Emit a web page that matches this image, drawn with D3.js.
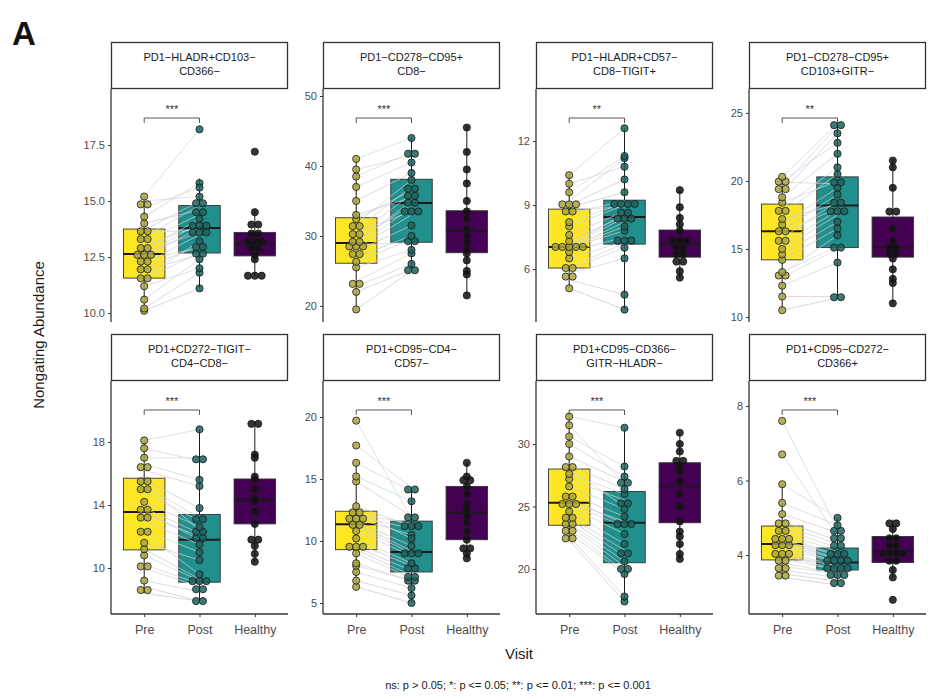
<!DOCTYPE html>
<html>
<head>
<meta charset="utf-8">
<script src="https://cdn.jsdelivr.net/npm/d3@7"></script>
<style>
body { margin:0; background:#fff; font-family:"Liberation Sans", Arial, sans-serif; }
</style>
</head>
<body>
<svg id="chart"></svg>
<script>
//visit groups on the x axis
var visits = ["Pre","Post","Healthy"];

//strip labels, two lines each
var panelLabels = [
    ["PD1−HLADR+CD103−","CD366−"],
    ["PD1−CD278−CD95+","CD8−"],
    ["PD1−HLADR+CD57−","CD8−TIGIT+"],
    ["PD1−CD278−CD95+","CD103+GITR−"],
    ["PD1+CD272−TIGIT−","CD4−CD8−"],
    ["PD1+CD95−CD4−","CD57−"],
    ["PD1+CD95−CD366−","GITR−HLADR−"],
    ["PD1+CD95−CD272−","CD366+"]
];

var sigLabels = ["***","***","**","**","***","***","***","***"];

//y limits and ticks
var yDomains = [[9.6,20.0],[17.7,51.0],[3.52,14.44],[9.63,26.76],[7.08,21.87],[4.11,22.9],[16.4,35.04],[2.42,8.67]];
var yTicks = [[10,12.5,15,17.5],[20,30,40,50],[6,9,12],[10,15,20,25],[10,14,18],[5,10,15,20],[20,25,30],[4,6,8]];

//box stats [low whisker, q1, median, q3, high whisker]
var preBox = [[10.1,11.56,12.63,13.75,15.2],[19.3,26.1,29.0,32.6,41.0],[5.1,6.05,7.03,8.81,10.45],[10.5,14.2,16.3,18.3,20.3],
              [8.4,11.15,13.55,15.7,18.1],[6.3,9.3,11.35,12.4,16.3],[22.3,23.5,25.3,28.0,32.2],[3.4,3.87,4.3,4.78,5.9]];
var postBox = [[11.1,12.68,13.8,14.8,16.0],[25.0,29.1,34.7,38.1,44.3],[4.1,7.17,8.44,9.23,12.6],[11.4,15.1,18.2,20.3,24.2],
              [7.85,9.1,11.8,13.4,18.8],[5.0,7.5,9.1,11.6,14.3],[17.4,20.5,23.7,26.2,31.3],[3.2,3.6,3.8,4.19,5.0]];
var healthyBox = [[11.65,12.55,13.1,13.6,14.55],[21.7,27.6,30.7,33.6,45.7],[5.6,6.56,7.2,7.83,9.7],[11.0,14.4,15.1,17.35,21.6],
              [10.4,12.8,14.3,15.65,19.3],[8.6,10.1,12.3,14.4,16.3],[20.8,23.7,26.6,28.5,30.9],[3.4,3.8,4.1,4.5,4.95]];

//paired patient values, same order in pre and post
var preValues = [
    [10.1,10.2,10.6,11.2,11.5,11.6,11.9,12.0,12.2,12.4,12.5,12.6,12.7,12.8,13.0,13.2,13.4,13.6,13.7,14.0,14.3,14.7,15.0,15.2],
    [19.5,22.0,22.8,23.5,25.5,26.3,27.0,27.8,28.2,28.5,28.8,29.0,29.3,30.0,30.5,31.0,31.8,32.4,33.0,35.0,37.0,38.5,39.5,41.0],
    [5.1,5.5,5.8,6.0,6.1,6.5,6.8,7.0,7.0,7.0,7.1,7.1,7.3,7.6,8.0,8.2,8.6,8.8,8.9,9.0,9.2,9.6,10.0,10.4],
    [10.5,11.5,12.3,12.9,13.2,13.3,14.2,14.6,15.0,15.4,15.8,16.2,16.4,16.8,17.2,17.6,18.0,18.4,18.8,19.2,19.6,19.9,20.0,20.3],
    [8.4,8.8,9.2,10.0,10.2,10.8,11.2,11.6,12.2,12.4,13.0,13.4,13.6,13.8,14.2,14.8,15.2,15.4,15.6,16.2,16.6,17.0,17.6,18.1],
    [6.3,6.8,7.5,8.0,8.2,9.0,9.3,9.5,9.8,10.2,10.8,11.2,11.4,11.6,11.8,12.0,12.2,12.4,12.8,14.8,15.2,16.3,17.7,19.7],
    [22.3,22.6,22.9,23.2,23.5,23.7,24.0,24.2,24.6,25.0,25.2,25.4,25.6,26.0,26.6,27.2,27.6,28.0,28.3,29.0,30.0,30.6,31.5,32.2],
    [3.4,3.5,3.6,3.7,3.8,3.9,4.0,4.0,4.1,4.2,4.3,4.3,4.4,4.4,4.5,4.6,4.7,4.8,4.9,5.1,5.4,5.9,6.7,7.6]
];
var postValues = [
    [11.1,11.8,12.4,12.0,12.7,13.2,12.6,13.0,13.5,12.9,13.8,14.0,13.6,14.2,13.9,14.4,14.8,13.7,15.0,14.6,15.8,15.6,15.2,18.2],
    [25.0,25.2,26.0,27.5,28.0,29.5,30.0,31.5,33.0,34.0,29.0,35.0,34.5,36.0,33.5,37.0,38.0,36.5,35.5,39.0,40.5,42.0,41.5,44.0],
    [4.1,4.8,6.5,7.0,7.2,7.3,7.5,7.8,8.2,8.0,8.4,8.6,8.5,8.7,9.0,9.1,9.2,8.9,9.6,10.2,11.2,11.3,10.8,12.6],
    [11.4,11.5,14.0,15.0,16.0,15.2,16.5,17.0,17.5,17.8,18.5,18.0,19.0,19.5,18.3,20.5,21.0,20.0,22.0,23.5,24.0,19.8,22.8,24.2],
    [7.9,7.9,8.5,8.8,9.0,9.2,9.3,10.5,9.6,11.0,11.5,12.0,11.8,12.2,12.6,13.0,13.2,12.4,13.8,15.2,15.6,17.0,16.8,18.8],
    [5.0,5.6,6.2,6.8,6.8,7.0,7.2,7.6,8.0,8.2,8.8,9.0,9.2,9.6,10.5,11.0,11.4,10.2,11.2,12.0,13.2,14.0,14.3,11.8],
    [17.4,17.8,19.6,19.8,20.2,20.6,21.0,21.5,22.0,22.8,23.4,23.8,23.6,24.2,24.8,25.5,26.0,25.0,26.4,27.0,27.4,28.2,26.8,31.3],
    [3.2,3.3,3.4,3.5,3.5,3.6,3.6,3.7,3.7,3.8,3.8,3.9,3.9,4.0,4.0,4.1,4.2,4.3,4.4,4.6,4.8,5.0,4.5,4.7]
];
var healthyValues = [
    [11.6,11.7,11.7,12.4,12.6,12.8,13.0,13.1,13.2,13.3,13.5,13.6,13.9,14.0,14.5,17.2],
    [21.5,24.5,25.0,26.5,27.5,28.0,29.0,30.0,31.0,32.5,33.5,35.0,37.5,39.5,42.0,45.5],
    [5.6,5.9,6.2,6.5,6.6,6.8,6.9,7.1,7.2,7.3,7.5,7.8,8.1,8.4,8.9,9.7],
    [11.0,12.5,12.8,13.5,14.3,14.5,14.8,15.0,15.2,15.6,16.5,17.5,18.0,19.5,21.0,21.5],
    [10.4,10.9,11.4,11.6,12.0,12.8,13.6,14.2,14.4,15.0,15.6,15.8,17.0,17.2,19.0,19.3],
    [8.6,9.0,9.3,9.5,10.1,10.8,11.5,12.0,12.5,13.0,13.8,14.4,14.8,15.0,15.2,16.3],
    [20.8,21.2,22.0,22.6,23.0,23.8,25.0,26.0,27.0,27.8,28.2,28.5,28.8,29.4,30.0,30.9],
    [2.8,3.4,3.6,3.8,3.9,4.0,4.0,4.1,4.1,4.2,4.3,4.4,4.5,4.7,4.8,4.9]
];

//colours
var boxFill = {Pre:"#fde725", Post:"#21908c", Healthy:"#440154"};
var dotFill = {Pre:"#a8a43c", Post:"#1b625d", Healthy:"#111111"};
var pairColors = ["#c8c8d8","#dcc4cc","#c4d4e4","#d4dcc4","#d8d0e8","#c8dcd8"];

var screen = {width:948, height:696};
var colX = [111, 323, 536, 749];
var panelW = 177;
var rowTop = [42, 334];
var stripH = 47;
var plotH = 233;
var dotR = 3.6;

var svg = d3.select("#chart")
    .attr("width", screen.width)
    .attr("height", screen.height);

//draws one stacked dot column, like geom_dotplot with centred stacks
var drawDots = function(g, values, cx, yScale, fill)
{
    var bins = d3.groups(values, function(v){ return Math.round(yScale(v)/(2*dotR)); });
    bins.forEach(function(bin)
    {
        var vals = bin[1];
        var cy = d3.mean(vals, function(v){ return yScale(v); });
        vals.forEach(function(v, i)
        {
            g.append("circle")
                .attr("cx", cx + (i-(vals.length-1)/2)*dotR*1.9)
                .attr("cy", cy)
                .attr("r", dotR)
                .attr("fill", fill)
                .attr("fill-opacity", 0.85)
                .attr("stroke", "#1a1a1a")
                .attr("stroke-width", 0.8);
        });
    });
}

var drawBox = function(g, stats, cx, bw, yScale, fill)
{
    g.append("line")
        .attr("x1", cx).attr("x2", cx)
        .attr("y1", yScale(stats[0])).attr("y2", yScale(stats[4]))
        .attr("stroke", "#1a1a1a").attr("stroke-width", 1);
    g.append("rect")
        .attr("x", cx-bw/2).attr("width", bw)
        .attr("y", yScale(stats[3]))
        .attr("height", yScale(stats[1])-yScale(stats[3]))
        .attr("fill", fill)
        .attr("stroke", "#333").attr("stroke-width", 0.9);
    g.append("line")
        .attr("x1", cx-bw/2).attr("x2", cx+bw/2)
        .attr("y1", yScale(stats[2])).attr("y2", yScale(stats[2]))
        .attr("stroke", "#1a1a1a").attr("stroke-width", 2);
}

var drawPanel = function(p)
{
    var col = p % 4, row = Math.floor(p/4);
    var left = colX[col], top = rowTop[row] + stripH;

    var g = svg.append("g").attr("transform","translate("+left+","+top+")");

    var xScale = d3.scalePoint().domain(visits).range([0,panelW]).padding(0.6);
    var yScale = d3.scaleLinear().domain(yDomains[p]).range([plotH,0]);
    var bw = xScale.step()*0.75;

    //strip
    var strip = svg.append("g").attr("transform","translate("+left+","+rowTop[row]+")");
    strip.append("rect")
        .attr("x",0.5).attr("y",0.5)
        .attr("width",panelW-1).attr("height",stripH-1)
        .attr("fill","#fff").attr("stroke","#333").attr("stroke-width",1.3);
    panelLabels[p].forEach(function(line, i)
    {
        strip.append("text")
            .attr("x", panelW/2).attr("y", 19+i*14)
            .attr("text-anchor","middle")
            .attr("font-size", 11).attr("fill","#1a1a1a")
            .text(line);
    });

    //boxes
    drawBox(g, preBox[p], xScale("Pre"), bw, yScale, boxFill.Pre);
    drawBox(g, postBox[p], xScale("Post"), bw, yScale, boxFill.Post);
    drawBox(g, healthyBox[p], xScale("Healthy"), bw, yScale, boxFill.Healthy);

    //paired lines
    preValues[p].forEach(function(v, i)
    {
        g.append("line")
            .attr("x1", xScale("Pre")).attr("y1", yScale(v))
            .attr("x2", xScale("Post")).attr("y2", yScale(postValues[p][i]))
            .attr("stroke", pairColors[i % pairColors.length])
            .attr("stroke-width", 0.9)
            .attr("opacity", 0.8);
    });

    //dots
    drawDots(g, preValues[p], xScale("Pre"), yScale, dotFill.Pre);
    drawDots(g, postValues[p], xScale("Post"), yScale, dotFill.Post);
    drawDots(g, healthyValues[p], xScale("Healthy"), yScale, dotFill.Healthy);

    //significance bracket
    var by = 29;
    g.append("path")
        .attr("d","M"+xScale("Pre")+","+(by+5)+"V"+by+"H"+xScale("Post")+"V"+(by+5))
        .attr("fill","none").attr("stroke","#444").attr("stroke-width",0.9);
    g.append("text")
        .attr("x",(xScale("Pre")+xScale("Post"))/2).attr("y",by-5)
        .attr("text-anchor","middle")
        .attr("font-size",11).attr("fill","#333")
        .text(sigLabels[p]);

    //y axis
    var yAxis = d3.axisLeft(yScale)
        .tickValues(yTicks[p])
        .tickSize(3)
        .tickFormat(p==0 ? d3.format(".1f") : d3.format("d"));
    var ya = g.append("g").call(yAxis);
    ya.select(".domain").attr("stroke","#333").attr("stroke-width",1.3).attr("d","M0,0V"+plotH);
    ya.selectAll(".tick line").attr("stroke","#333");
    ya.selectAll("text").attr("font-size",11).attr("fill","#4d4d4d")
        .attr("font-family","Liberation Sans, Arial, sans-serif");

    //x axis only on the bottom row
    if(row == 1)
    {
        var xa = g.append("g")
            .attr("transform","translate(0,"+plotH+")")
            .call(d3.axisBottom(xScale).tickSize(3));
        xa.select(".domain").attr("stroke","#333").attr("stroke-width",1.3).attr("d","M0,0H"+panelW);
        xa.selectAll(".tick line").attr("stroke","#333");
        xa.selectAll("text").attr("font-size",12.5).attr("fill","#4d4d4d")
            .attr("dy","1.1em")
            .attr("font-family","Liberation Sans, Arial, sans-serif");
    }
}

for(var p = 0; p < 8; p++)
{
    drawPanel(p);
}

//titles
svg.append("text")
    .attr("x",12).attr("y",45)
    .attr("font-size",33).attr("font-weight","bold").attr("fill","#111")
    .text("A");

svg.append("text")
    .attr("transform","translate(44,335) rotate(-90)")
    .attr("text-anchor","middle")
    .attr("font-size",15).attr("fill","#1a1a1a")
    .text("Nongating Abundance");

svg.append("text")
    .attr("x",519).attr("y",659)
    .attr("text-anchor","middle")
    .attr("font-size",15).attr("fill","#1a1a1a")
    .text("Visit");

svg.append("text")
    .attr("x",518).attr("y",689)
    .attr("text-anchor","middle")
    .attr("font-size",11).attr("fill","#1a1a1a")
    .text("ns: p > 0.05; *: p <= 0.05; **: p <= 0.01; ***: p <= 0.001");
</script>
</body>
</html>
